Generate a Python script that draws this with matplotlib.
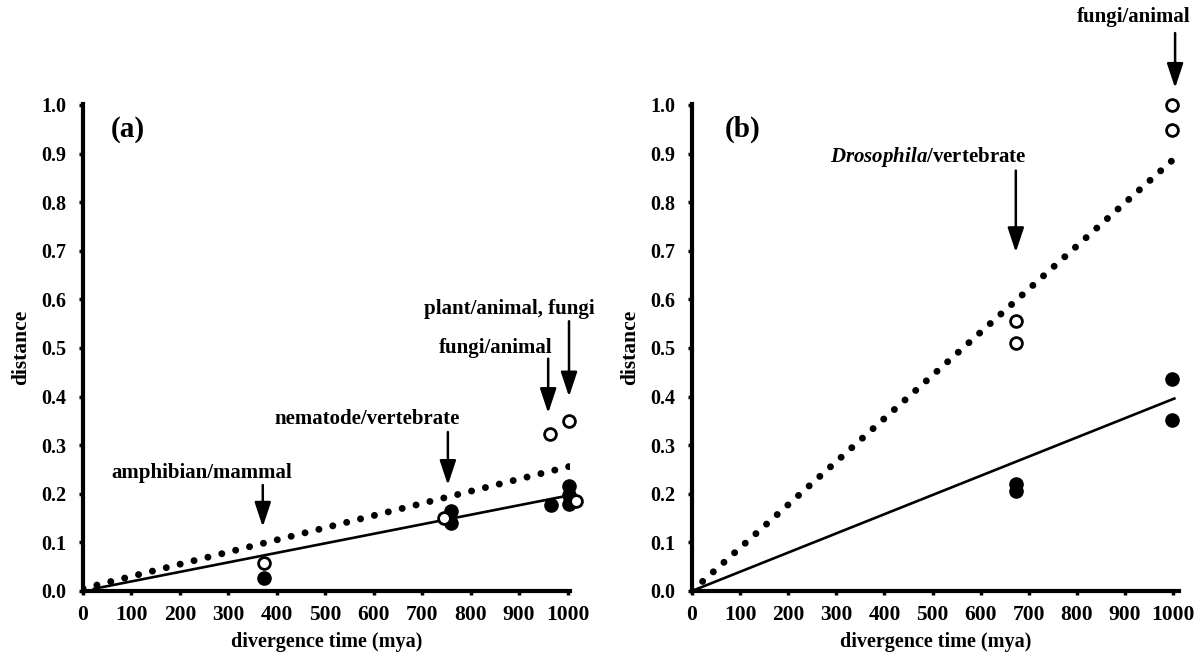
import matplotlib
matplotlib.use("Agg")
import matplotlib.pyplot as plt

plt.rcParams["font.family"] = ["Liberation Serif", "DejaVu Serif"]
plt.rcParams["font.weight"] = "bold"
plt.rcParams["mathtext.fontset"] = "custom"
plt.rcParams["mathtext.rm"] = "Liberation Serif:bold"
plt.rcParams["mathtext.it"] = "Liberation Serif:italic:bold"

# ---- panel (a) data ----
a_open_x = [373, 746, 964, 1003, 1017]
a_open_y = [0.058, 0.150, 0.323, 0.350, 0.185]
a_fill_x = [373, 759, 759, 966, 1003, 1003, 1003]
a_fill_y = [0.026, 0.165, 0.139, 0.177, 0.216, 0.198, 0.178]
a_solid_x = [20, 1000]
a_solid_y = [0.004, 0.196]
a_dot_x = [0, 1003]
a_dot_y = [0.005, 0.256]
a_notes = ["amphibian/mammal", "nematode/vertebrate", "fungi/animal", "plant/animal, fungi"]
a_note_xy = [(245, 0.243), (586, 0.353), (852, 0.500), (880, 0.580)]
a_arrow_x = [371, 753, 960, 1003]
a_arrow_from = [0.218, 0.327, 0.478, 0.555]
a_arrow_to = [0.132, 0.218, 0.366, 0.400]

# ---- panel (b) data ----
b_open_x = [673, 673, 997, 997]
b_open_y = [0.555, 0.510, 0.999, 0.949]
b_fill_x = [673, 673, 997, 997]
b_fill_y = [0.221, 0.206, 0.436, 0.351]
b_solid_x = [0, 1005]
b_solid_y = [0.0, 0.397]
b_dot_x = [0, 1014]
b_dot_y = [0.0, 0.900]
b_notes = [r"$\mathit{Drosophila}$/vertebrate", "fungi/animal"]
b_note_xy = [(490, 0.893), (918, 1.181)]
b_arrow_x = [673, 1004]
b_arrow_from = [0.865, 1.148]
b_arrow_to = [0.697, 1.035]

yticks = [i / 10 for i in range(11)]
xticks = list(range(0, 1001, 100))

fig = plt.figure(figsize=(12.03, 6.62), dpi=100)
ax_a = fig.add_axes([0.0690, 0.1073, 0.4048, 0.7356])
ax_b = fig.add_axes([0.5752, 0.1073, 0.4048, 0.7356])


def style(ax, xmax):
    ax.set_xlim(0, xmax)
    ax.set_ylim(0, 1.002)
    for s in ["top", "right"]:
        ax.spines[s].set_visible(False)
    for s in ["left", "bottom"]:
        ax.spines[s].set_linewidth(3)
    ax.set_yticks(yticks)
    ax.set_yticklabels(["%.1f" % v for v in yticks])
    ax.set_xticks(xticks)
    ax.tick_params(axis="both", direction="out", length=3, width=2.5)
    ax.tick_params(axis="y", pad=9, labelsize=14.5)
    ax.tick_params(axis="x", pad=7, labelsize=15.5)
    ax.set_xlabel("divergence time (mya)", fontsize=14.5, fontweight="bold",
                  labelpad=5)
    ax.set_ylabel("distance", fontsize=15.5, fontweight="bold", labelpad=7)


def draw(ax, ox, oy, fx, fy, sx, sy, dx, dy, notes, note_xy, arx, arf, art):
    ax.plot(sx, sy, color="black", lw=1.9, solid_capstyle="butt")
    ax.plot(dx, dy, color="black", lw=5.0, linestyle=(0, (0.01, 2.05)),
            dash_capstyle="round")
    ax.plot(fx, fy, "o", color="black", ms=9.5, clip_on=False, zorder=4)
    ax.plot(ox, oy, "o", mfc="white", mec="black", mew=2.0, ms=8.5,
            clip_on=False, zorder=5)
    for t, (tx, ty) in zip(notes, note_xy):
        ax.text(tx, ty, t, ha="center", va="center", fontsize=15,
                fontweight="bold", clip_on=False)
    for x, y0, y1 in zip(arx, arf, art):
        ax.annotate("", xy=(x, y1), xytext=(x, y0), annotation_clip=False,
                    arrowprops=dict(arrowstyle="-|>,head_length=0.75,head_width=0.25",
                                    mutation_scale=20, lw=1.8, color="black",
                                    shrinkA=0, shrinkB=0))


style(ax_a, 1005)
style(ax_b, 1012)
draw(ax_a, a_open_x, a_open_y, a_fill_x, a_fill_y, a_solid_x, a_solid_y,
     a_dot_x, a_dot_y, a_notes, a_note_xy, a_arrow_x, a_arrow_from, a_arrow_to)
draw(ax_b, b_open_x, b_open_y, b_fill_x, b_fill_y, b_solid_x, b_solid_y,
     b_dot_x, b_dot_y, b_notes, b_note_xy, b_arrow_x, b_arrow_from, b_arrow_to)

ax_a.text(92, 0.950, "(a)", ha="center", va="center", fontsize=21, fontweight="bold")
ax_b.text(106, 0.950, "(b)", ha="center", va="center", fontsize=21, fontweight="bold")

fig.savefig("out.png", dpi=100)
